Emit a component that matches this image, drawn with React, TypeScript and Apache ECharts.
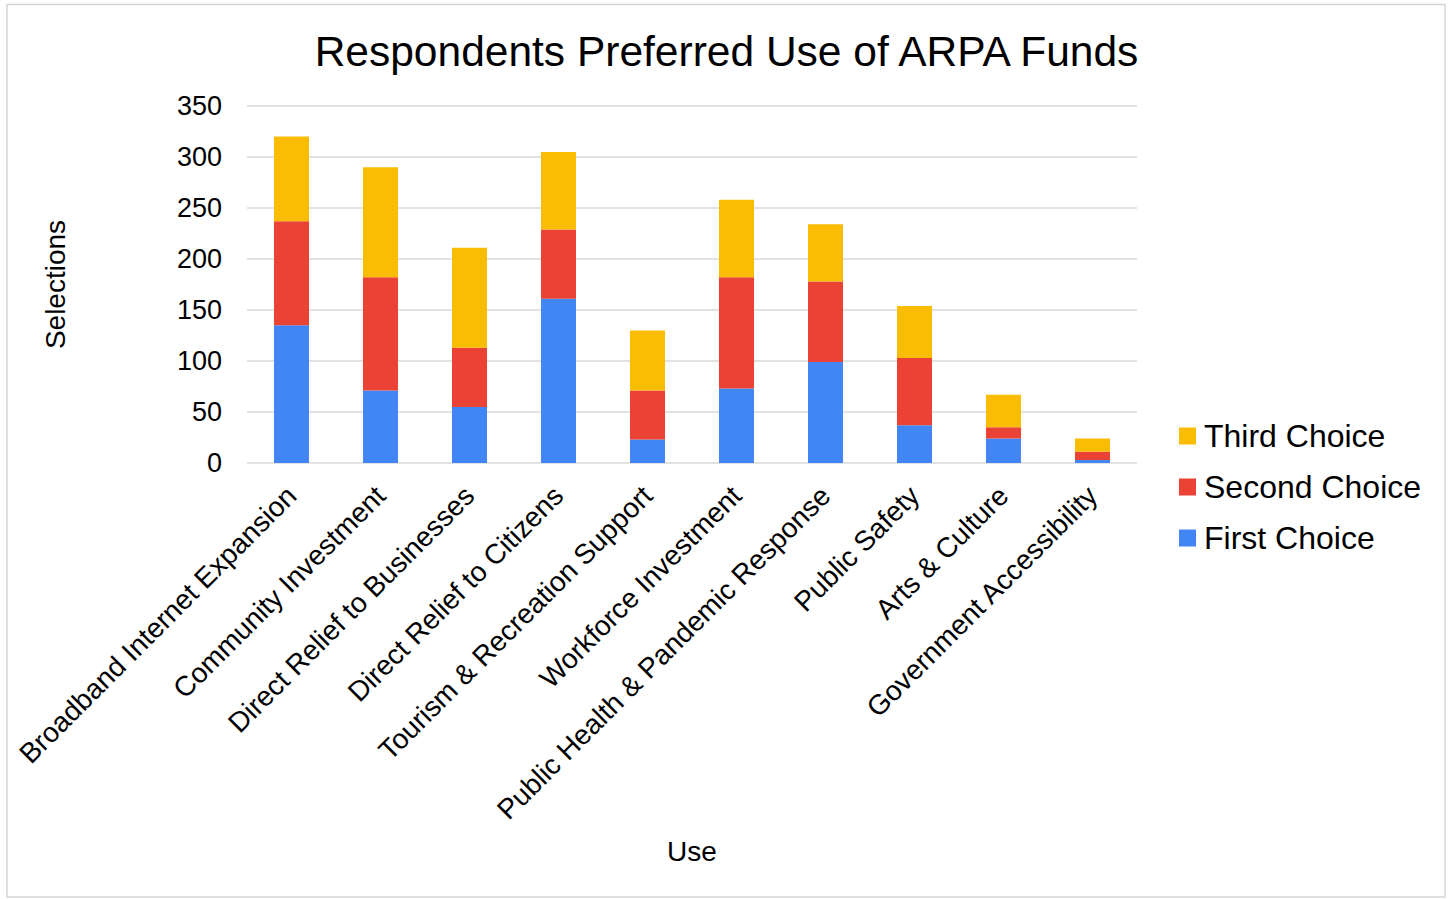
import React, { useEffect, useRef } from "react";
import * as echarts from "echarts";

const categories = [
  "Broadband Internet Expansion",
  "Community Investment",
  "Direct Relief to Businesses",
  "Direct Relief to Citizens",
  "Tourism & Recreation Support",
  "Workforce Investment",
  "Public Health & Pandemic Response",
  "Public Safety",
  "Arts & Culture",
  "Government Accessibility",
];
const firstChoice = [135, 71, 55, 161, 23, 73, 99, 37, 24, 3];
const secondChoice = [102, 111, 58, 68, 48, 109, 79, 66, 11, 8];
const thirdChoice = [83, 108, 98, 76, 59, 76, 56, 51, 32, 13];
const yTicks = { min: 0, max: 350, interval: 50 };

const FONT = "'Liberation Sans', Arial, sans-serif";

export default function App() {
  const ref = useRef<HTMLDivElement>(null);
  useEffect(() => {
    if (!ref.current) return;
    const chart = echarts.init(ref.current, undefined, { renderer: "svg" });
    chart.setOption({
      animation: false,
      backgroundColor: "#ffffff",
      textStyle: { fontFamily: FONT, color: "#000" },
      title: {
        text: "Respondents Preferred Use of ARPA Funds",
        left: "center",
        top: 25,
        textStyle: { fontFamily: FONT, fontSize: 42.5, fontWeight: "normal", color: "#000" },
      },
      graphic: [
        {
          type: "rect",
          shape: { x: 7, y: 4.5, width: 1438, height: 892.5 },
          style: { fill: "none", stroke: "#d6d6d6", lineWidth: 1.5 },
          silent: true,
        },
      ],
      legend: {
        data: ["Third Choice", "Second Choice", "First Choice"],
        orient: "vertical",
        left: 1179,
        top: 420,
        itemWidth: 17,
        itemHeight: 17,
        itemGap: 19,
        icon: "rect",
        padding: 0,
        textStyle: {
          fontFamily: FONT,
          fontSize: 32,
          color: "#000",
          lineHeight: 32,
          padding: [0, 0, 0, 3],
        },
      },
      grid: { left: 247, right: 316, top: 106, bottom: 436, containLabel: false },
      xAxis: {
        type: "category",
        data: categories,
        name: "Use",
        nameLocation: "middle",
        nameGap: 374,
        nameTextStyle: { fontFamily: FONT, fontSize: 28, color: "#000" },
        axisLine: { show: false },
        axisTick: { show: false },
        axisLabel: {
          interval: 0,
          rotate: 45,
          margin: 28,
          fontFamily: FONT,
          fontSize: 28,
          color: "#000",
        },
      },
      yAxis: {
        type: "value",
        min: yTicks.min,
        max: yTicks.max,
        interval: yTicks.interval,
        name: "Selections",
        nameLocation: "middle",
        nameGap: 178,
        nameTextStyle: { fontFamily: FONT, fontSize: 28, color: "#000" },
        axisLine: { show: false },
        axisTick: { show: false },
        axisLabel: { margin: 25, fontFamily: FONT, fontSize: 27, color: "#000" },
        splitLine: { lineStyle: { color: "#d9d9d9", width: 1.5 } },
      },
      series: [
        {
          name: "First Choice",
          type: "bar",
          stack: "total",
          barWidth: 35,
          data: firstChoice,
          itemStyle: { color: "#4285F4" },
        },
        {
          name: "Second Choice",
          type: "bar",
          stack: "total",
          barWidth: 35,
          data: secondChoice,
          itemStyle: { color: "#EA4335" },
        },
        {
          name: "Third Choice",
          type: "bar",
          stack: "total",
          barWidth: 35,
          data: thirdChoice,
          itemStyle: { color: "#FBBC04" },
        },
      ],
    });
    return () => chart.dispose();
  }, []);
  return (
    <div
      ref={ref}
      style={{ position: "absolute", left: 0, top: 0, width: 1453, height: 899 }}
    />
  );
}
